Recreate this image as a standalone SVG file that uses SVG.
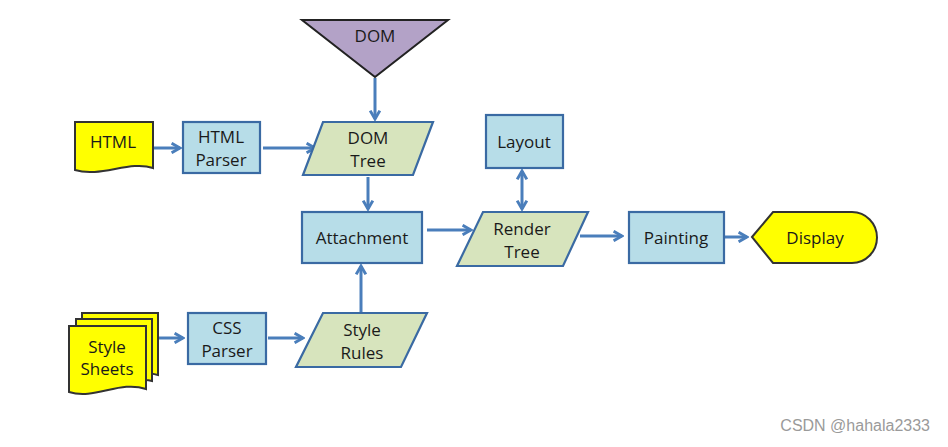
<svg xmlns="http://www.w3.org/2000/svg" width="948" height="447" viewBox="0 0 948 447">
<defs>
<style>
.t{font-family:"Open Sans","Liberation Sans",sans-serif;font-size:17px;fill:#1a1a1a;text-anchor:middle;dominant-baseline:middle}
.box{fill:#b7dde8;stroke:#3a6aa3;stroke-width:2.2}
.para{fill:#d7e4bd;stroke:#3a6aa3;stroke-width:2.2}
.doc{fill:#ffff00;stroke:#333;stroke-width:2}
.c{fill:none;stroke:#4a7ebb;stroke-width:3}
</style>
<marker id="ah" viewBox="0 0 10 10" refX="8" refY="5" markerWidth="4" markerHeight="4" orient="auto-start-reverse" markerUnits="strokeWidth">
<path d="M1,1 L8,5 L1,9" fill="none" stroke="#4a7ebb" stroke-width="2.4" stroke-linejoin="miter"/>
</marker>
</defs>
<rect width="948" height="447" fill="#fff"/>
<g id="connectors">
<line class="c" x1="375" y1="78" x2="375" y2="119" marker-end="url(#ah)"/>
<line class="c" x1="154" y1="148" x2="180" y2="148" marker-end="url(#ah)"/>
<line class="c" x1="263" y1="148" x2="315" y2="148" marker-end="url(#ah)"/>
<line class="c" x1="368" y1="177" x2="368" y2="209" marker-end="url(#ah)"/>
<line class="c" x1="361" y1="313" x2="361" y2="266" marker-end="url(#ah)"/>
<line class="c" x1="427" y1="230" x2="471" y2="230" marker-end="url(#ah)"/>
<line class="c" x1="522" y1="171" x2="522" y2="209" marker-start="url(#ah)" marker-end="url(#ah)"/>
<line class="c" x1="580" y1="236" x2="622" y2="236" marker-end="url(#ah)"/>
<line class="c" x1="725" y1="237" x2="747" y2="237" marker-end="url(#ah)"/>
<line class="c" x1="159" y1="338" x2="183" y2="338" marker-end="url(#ah)"/>
<line class="c" x1="268" y1="338" x2="303" y2="338" marker-end="url(#ah)"/>
</g>
<g id="dom">
<polygon points="302,20 448,20 375,77" fill="#b3a2c7" stroke="#222" stroke-width="2"/>
<text class="t" x="375" y="37">DOM</text>
</g>
<g id="html">
<path class="doc" d="M75,122 H153 V168 C130,160 100,178 75,170 Z"/>
<text class="t" x="113" y="143">HTML</text>
</g>
<g id="html-parser">
<rect class="box" x="183" y="122" width="77" height="51"/>
<text class="t" x="221" y="138">HTML</text>
<text class="t" x="221" y="161">Parser</text>
</g>
<g id="dom-tree">
<polygon class="para" points="323,122 433,122 413,175 303,175"/>
<text class="t" x="368" y="139">DOM</text>
<text class="t" x="368" y="162">Tree</text>
</g>
<g id="attachment">
<rect class="box" x="302" y="212" width="120" height="51"/>
<text class="t" x="362" y="239">Attachment</text>
</g>
<g id="layout">
<rect class="box" x="486" y="115" width="77" height="53"/>
<text class="t" x="524" y="143">Layout</text>
</g>
<g id="render-tree">
<polygon class="para" points="483,212 588,212 563,266 457,266"/>
<text class="t" x="522" y="230">Render</text>
<text class="t" x="522" y="253">Tree</text>
</g>
<g id="painting">
<rect class="box" x="629" y="212" width="95" height="51"/>
<text class="t" x="676" y="239">Painting</text>
</g>
<g id="display">
<path class="doc" d="M752,237 L773,212 H852 A25,25.5 0 0 1 852,263 H773 Z"/>
<text class="t" x="815" y="239">Display</text>
</g>
<g id="style-sheets">
<path class="doc" d="M82,313 H158 V375 C150,373 146,373 146,373 V320 H82 Z"/>
<path class="doc" d="M76,319 H152 V381 C148,380 146,380 146,380 V326 H76 Z"/>
<path class="doc" d="M69,326 H146 V389 C120,380 95,400 69,392 Z"/>
<text class="t" x="107" y="348">Style</text>
<text class="t" x="107" y="370">Sheets</text>
</g>
<g id="css-parser">
<rect class="box" x="188" y="313" width="78" height="51"/>
<text class="t" x="227" y="329">CSS</text>
<text class="t" x="227" y="352">Parser</text>
</g>
<g id="style-rules">
<polygon class="para" points="323,313 427,313 401,367 296,367"/>
<text class="t" x="362" y="331">Style</text>
<text class="t" x="362" y="354">Rules</text>
</g>
<text x="930" y="431" font-family="'Liberation Sans',Arial,sans-serif" font-size="16" fill="#9a9a9a" text-anchor="end">CSDN @hahala2333</text>
</svg>
